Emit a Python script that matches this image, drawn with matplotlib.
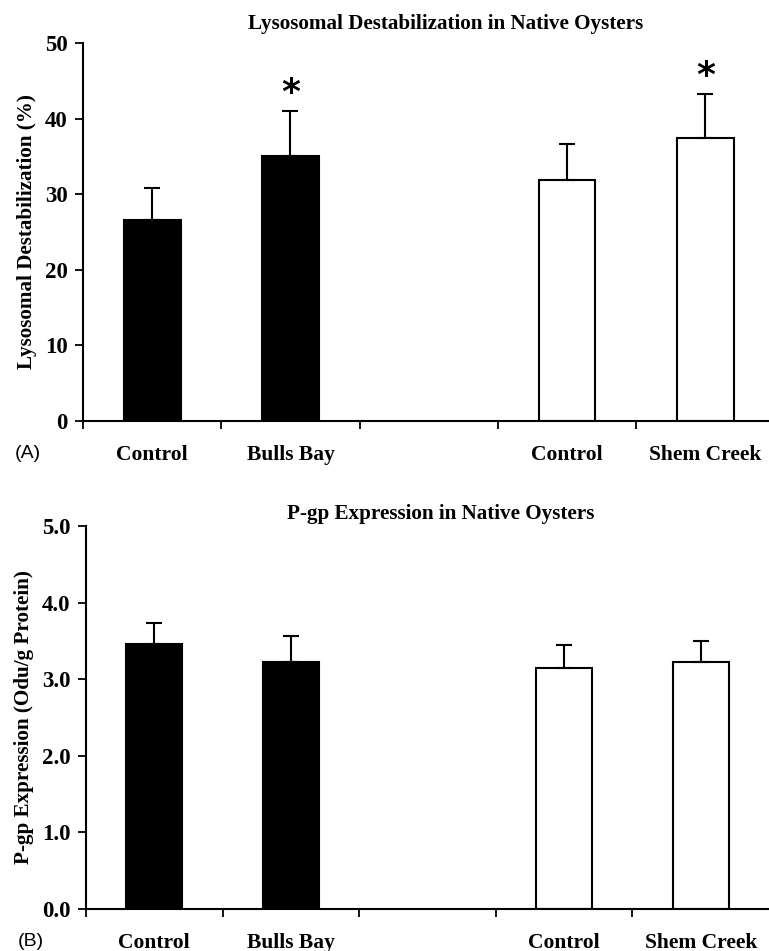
import numpy as np
import matplotlib.pyplot as plt

plt.rcParams['font.family'] = ['Liberation Serif', 'DejaVu Serif']

# data
groups = ['Control', 'Bulls Bay', '', 'Control', 'Shem Creek']
lyso_mean = [26.6, 35.1, np.nan, 31.9, 37.4]
lyso_err = [4.2, 5.9, np.nan, 4.8, 5.8]
lyso_sig = [False, True, False, False, True]
pgp_mean = [3.46, 3.22, np.nan, 3.14, 3.22]
pgp_err = [0.27, 0.35, np.nan, 0.30, 0.28]
colors = ['black', 'black', 'white', 'white', 'white']

W, H = 769, 951
fig = plt.figure(figsize=(W / 100, H / 100), dpi=100)


def panel(rect, means, errs, sig, title, title_x, title_pad, ylabel, yticks, yfmt, tag, xmax):
    ax = fig.add_axes(rect)
    x = np.arange(len(groups)) + 0.5
    for xi, m, e, c in zip(x, means, errs, colors):
        if np.isnan(m):
            continue
        ax.bar(xi, m, width=0.41, color=c, edgecolor='black', linewidth=1.5, zorder=2)
        ax.errorbar(xi, m, yerr=[[0], [e]], fmt='none', ecolor='black',
                    elinewidth=1.5, capsize=5.5, capthick=1.5, zorder=3)
    for xi, m, e, s in zip(x, means, errs, sig):
        if s:
            ax.annotate('*', (xi, m + e), xytext=(0, 1), textcoords='offset points',
                        ha='center', va='bottom', fontsize=26, fontweight='bold',
                        family=['DejaVu Sans'])
    ax.set_xlim(0, xmax)
    ax.set_ylim(yticks[0], yticks[-1])
    ax.set_yticks(yticks)
    ax.set_yticklabels([yfmt.format(t) for t in yticks], fontsize=16.5, fontweight='bold')
    ax.set_xticks(np.arange(0, 5))
    ax.set_xticklabels([])
    ax.set_xticks(x, minor=True)
    ax.set_xticklabels(groups, minor=True, fontsize=15.5, fontweight='bold')
    ax.tick_params(axis='x', which='minor', length=0, pad=17)
    ax.tick_params(axis='x', which='major', length=6, width=1.3, direction='out')
    ax.tick_params(axis='y', length=6, width=1.3, direction='out', pad=5)
    for s in ['top', 'right']:
        ax.spines[s].set_visible(False)
    for s in ['left', 'bottom']:
        ax.spines[s].set_linewidth(1.5)
    ax.spines['bottom'].set_zorder(4)
    ax.set_ylabel(ylabel, fontsize=15.2, fontweight='bold', labelpad=6)
    ax.set_title(title, fontsize=15.2, fontweight='bold', pad=title_pad, x=title_x)
    ax.text(-0.1, -0.085, tag, transform=ax.transAxes, fontsize=14,
            family=['Liberation Sans'], ha='left', va='center')
    return ax


# panel A: y axis at x=83px, bottom 421px, top 43px
panel([83 / W, (H - 421) / H, (W - 83) / W, 378 / H], lyso_mean, lyso_err, lyso_sig,
      'Lysosomal Destabilization in Native Oysters', 0.528, 10,
      'Lysosomal Destabilization (%)', [0, 10, 20, 30, 40, 50], '{:d}', '(A)', 4.96)

# panel B: y axis at x=86px, bottom 909px, top 526px
panel([86 / W, (H - 909) / H, (W - 86) / W, 383 / H], pgp_mean, pgp_err,
      [False] * 5, 'P-gp Expression in Native Oysters', 0.52, 5,
      'P-gp Expression (Odu/g Protein)', [0.0, 1.0, 2.0, 3.0, 4.0, 5.0], '{:.1f}',
      '(B)', 5.0)

fig.savefig('out.png', dpi=100)
